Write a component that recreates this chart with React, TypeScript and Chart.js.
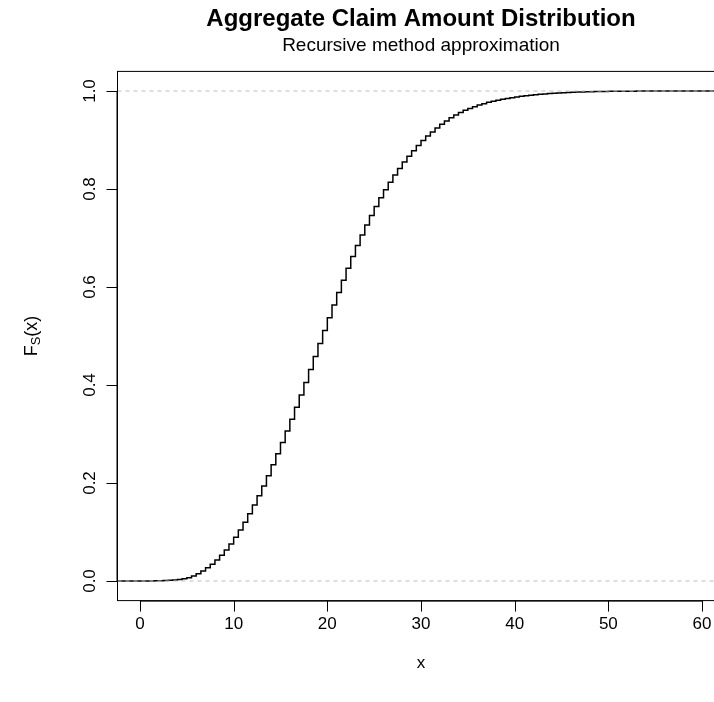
import React, { useEffect, useRef } from "react";
import { Chart, registerables } from "chart.js";

Chart.register(...registerables);

const TITLE = "Aggregate Claim Amount Distribution";
const SUBTITLE = "Recursive method approximation";

// knots (x) of the step function
const xKnots: number[] = [
  0, 0.5, 1, 1.5, 2, 2.5, 3, 3.5, 4, 4.5, 5, 5.5, 6, 6.5, 7, 7.5, 8, 8.5, 9, 9.5,
  10, 10.5, 11, 11.5, 12, 12.5, 13, 13.5, 14, 14.5, 15, 15.5, 16, 16.5, 17, 17.5, 18, 18.5, 19, 19.5,
  20, 20.5, 21, 21.5, 22, 22.5, 23, 23.5, 24, 24.5, 25, 25.5, 26, 26.5, 27, 27.5, 28, 28.5, 29, 29.5,
  30, 30.5, 31, 31.5, 32, 32.5, 33, 33.5, 34, 34.5, 35, 35.5, 36, 36.5, 37, 37.5, 38, 38.5, 39, 39.5,
  40, 40.5, 41, 41.5, 42, 42.5, 43, 43.5, 44, 44.5, 45, 45.5, 46, 46.5, 47, 47.5, 48, 48.5, 49, 49.5,
  50, 50.5, 51, 51.5, 52, 52.5, 53, 53.5, 54, 54.5, 55, 55.5, 56, 56.5, 57, 57.5, 58, 58.5, 59, 59.5,
  60,
];

// F_S(x) values at each knot
const cdfValues: number[] = [
  0.0000, 0.0001, 0.0002, 0.0004, 0.0006, 0.0009, 0.0014, 0.0021, 0.0031, 0.0047,
  0.0068, 0.0103, 0.0148, 0.0203, 0.0268, 0.0343, 0.0428, 0.0525, 0.0635, 0.0757,
  0.0892, 0.1040, 0.1200, 0.1370, 0.1550, 0.1740, 0.1940, 0.2150, 0.2370, 0.2595,
  0.2825, 0.3060, 0.3300, 0.3545, 0.3795, 0.4050, 0.4315, 0.4580, 0.4845, 0.5110,
  0.5375, 0.5635, 0.5890, 0.6140, 0.6385, 0.6620, 0.6845, 0.7060, 0.7265, 0.7460,
  0.7645, 0.7820, 0.7985, 0.8140, 0.8285, 0.8420, 0.8550, 0.8670, 0.8782, 0.8888,
  0.8988, 0.9080, 0.9165, 0.9245, 0.9320, 0.9390, 0.9453, 0.9510, 0.9560, 0.9605,
  0.9645, 0.9681, 0.9713, 0.9742, 0.9768, 0.9791, 0.9812, 0.9831, 0.9848, 0.9864,
  0.9878, 0.9891, 0.9903, 0.9914, 0.9924, 0.9933, 0.9941, 0.9948, 0.9955, 0.9961,
  0.9966, 0.9971, 0.9975, 0.9979, 0.9982, 0.9985, 0.9987, 0.9989, 0.9991, 0.9992,
  0.9993, 0.9994, 0.9995, 0.9996, 0.9997, 0.9997, 0.9998, 0.9998, 0.9998, 0.9999,
  0.9999, 0.9999, 0.9999, 0.9999, 1.0000, 1.0000, 1.0000, 1.0000, 1.0000, 1.0000,
  1.0000,
];

const xTicks: number[] = [0, 10, 20, 30, 40, 50, 60];
const yTicks: number[] = [0, 0.2, 0.4, 0.6, 0.8, 1.0];
const yTickLabels: string[] = ["0.0", "0.2", "0.4", "0.6", "0.8", "1.0"];
const refLines: number[] = [0, 1];

const X_MIN = -2.4;
const X_MAX = 62.4;
const Y_MIN = -0.04;
const Y_MAX = 1.04;

const FONT = '"Liberation Sans", Arial, Helvetica, sans-serif';

const CANVAS_W = 740;
const CANVAS_H = 702;

const rPlotPlugin = {
  id: "rPlot",
  afterDraw(chart: any) {
    const { ctx, chartArea } = chart;
    const xs = chart.scales.x;
    const ys = chart.scales.y;
    const { left, right, top, bottom } = chartArea;
    ctx.save();
    ctx.strokeStyle = "#000";
    ctx.fillStyle = "#000";
    ctx.lineWidth = 1;
    // box
    ctx.strokeRect(left, top, right - left, bottom - top);

    const tickLen = 11;
    ctx.beginPath();
    const x0 = xs.getPixelForValue(xTicks[0]);
    const x1 = xs.getPixelForValue(xTicks[xTicks.length - 1]);
    ctx.moveTo(x0, bottom + 0.5);
    ctx.lineTo(x1, bottom + 0.5);
    xTicks.forEach((v) => {
      const px = Math.round(xs.getPixelForValue(v)) + 0.5;
      ctx.moveTo(px, bottom);
      ctx.lineTo(px, bottom + tickLen);
    });
    const y0 = ys.getPixelForValue(yTicks[0]);
    const y1 = ys.getPixelForValue(yTicks[yTicks.length - 1]);
    ctx.moveTo(left - 0.5, y0);
    ctx.lineTo(left - 0.5, y1);
    yTicks.forEach((v) => {
      const py = Math.round(ys.getPixelForValue(v)) + 0.5;
      ctx.moveTo(left, py);
      ctx.lineTo(left - tickLen, py);
    });
    ctx.stroke();

    ctx.font = `17px ${FONT}`;
    ctx.textAlign = "center";
    ctx.textBaseline = "middle";
    xTicks.forEach((v) => {
      ctx.fillText(String(v), xs.getPixelForValue(v), 624);
    });
    yTicks.forEach((v, i) => {
      ctx.save();
      ctx.translate(90, ys.getPixelForValue(v));
      ctx.rotate(-Math.PI / 2);
      ctx.fillText(yTickLabels[i], 0, 0);
      ctx.restore();
    });

    const cx = (left + right) / 2;
    ctx.fillText("x", cx, 663);

    // y title F_S(x)
    ctx.save();
    const cy = (top + bottom) / 2;
    ctx.translate(32, cy);
    ctx.rotate(-Math.PI / 2);
    ctx.textAlign = "left";
    const big = `18px ${FONT}`;
    const small = `13px ${FONT}`;
    ctx.font = big;
    const wF = ctx.measureText("F").width;
    const wP = ctx.measureText("(x)").width;
    ctx.font = small;
    const wS = ctx.measureText("S").width;
    const total = wF + wS + wP;
    let sx = -total / 2;
    ctx.font = big;
    ctx.fillText("F", sx, 0);
    sx += wF;
    ctx.font = small;
    ctx.fillText("S", sx, 4);
    sx += wS;
    ctx.font = big;
    ctx.fillText("(x)", sx, 0);
    ctx.restore();

    // titles
    ctx.textAlign = "center";
    ctx.font = `bold 24px ${FONT}`;
    ctx.fillText(TITLE, cx, 19);
    ctx.font = `19px ${FONT}`;
    ctx.fillText(SUBTITLE, cx, 46);
    ctx.restore();
  },
};

export default function App() {
  const canvasRef = useRef<HTMLCanvasElement | null>(null);

  useEffect(() => {
    const canvas = canvasRef.current;
    if (!canvas) return;
    const stepData = [
      { x: X_MIN, y: 0 },
      ...xKnots.map((x, i) => ({ x, y: cdfValues[i] })),
      { x: X_MAX, y: cdfValues[cdfValues.length - 1] },
    ];
    const refSets = refLines.map((h) => ({
      label: `ref${h}`,
      data: [
        { x: X_MIN, y: h },
        { x: X_MAX, y: h },
      ],
      borderColor: "#BEBEBE",
      borderWidth: 1,
      borderDash: [4, 4],
      pointRadius: 0,
      fill: false,
    }));
    const chart = new Chart(canvas, {
      type: "line",
      data: {
        datasets: [
          ...refSets,
          {
            label: "F_S(x)",
            data: stepData,
            borderColor: "#000000",
            borderWidth: 1.5,
            stepped: "before",
            pointRadius: 0,
            fill: false,
          },
        ],
      },
      options: {
        animation: false,
        responsive: false,
        devicePixelRatio: 1,
        layout: {
          padding: {
            left: 117.5,
            top: 71.4,
            right: CANVAS_W - 724.5,
            bottom: CANVAS_H - 600.6,
          },
        },
        plugins: {
          legend: { display: false },
          title: { display: false },
          tooltip: { enabled: false },
        },
        scales: {
          x: { type: "linear", min: X_MIN, max: X_MAX, display: false },
          y: { type: "linear", min: Y_MIN, max: Y_MAX, display: false },
        },
      },
      plugins: [rPlotPlugin],
    });
    return () => chart.destroy();
  }, []);

  return (
    <div
      style={{
        position: "fixed",
        left: 0,
        top: 0,
        width: 714,
        height: 702,
        overflow: "hidden",
        background: "#fff",
      }}
    >
      <canvas
        ref={canvasRef}
        width={CANVAS_W}
        height={CANVAS_H}
        style={{ width: CANVAS_W, height: CANVAS_H, display: "block" }}
      />
    </div>
  );
}
